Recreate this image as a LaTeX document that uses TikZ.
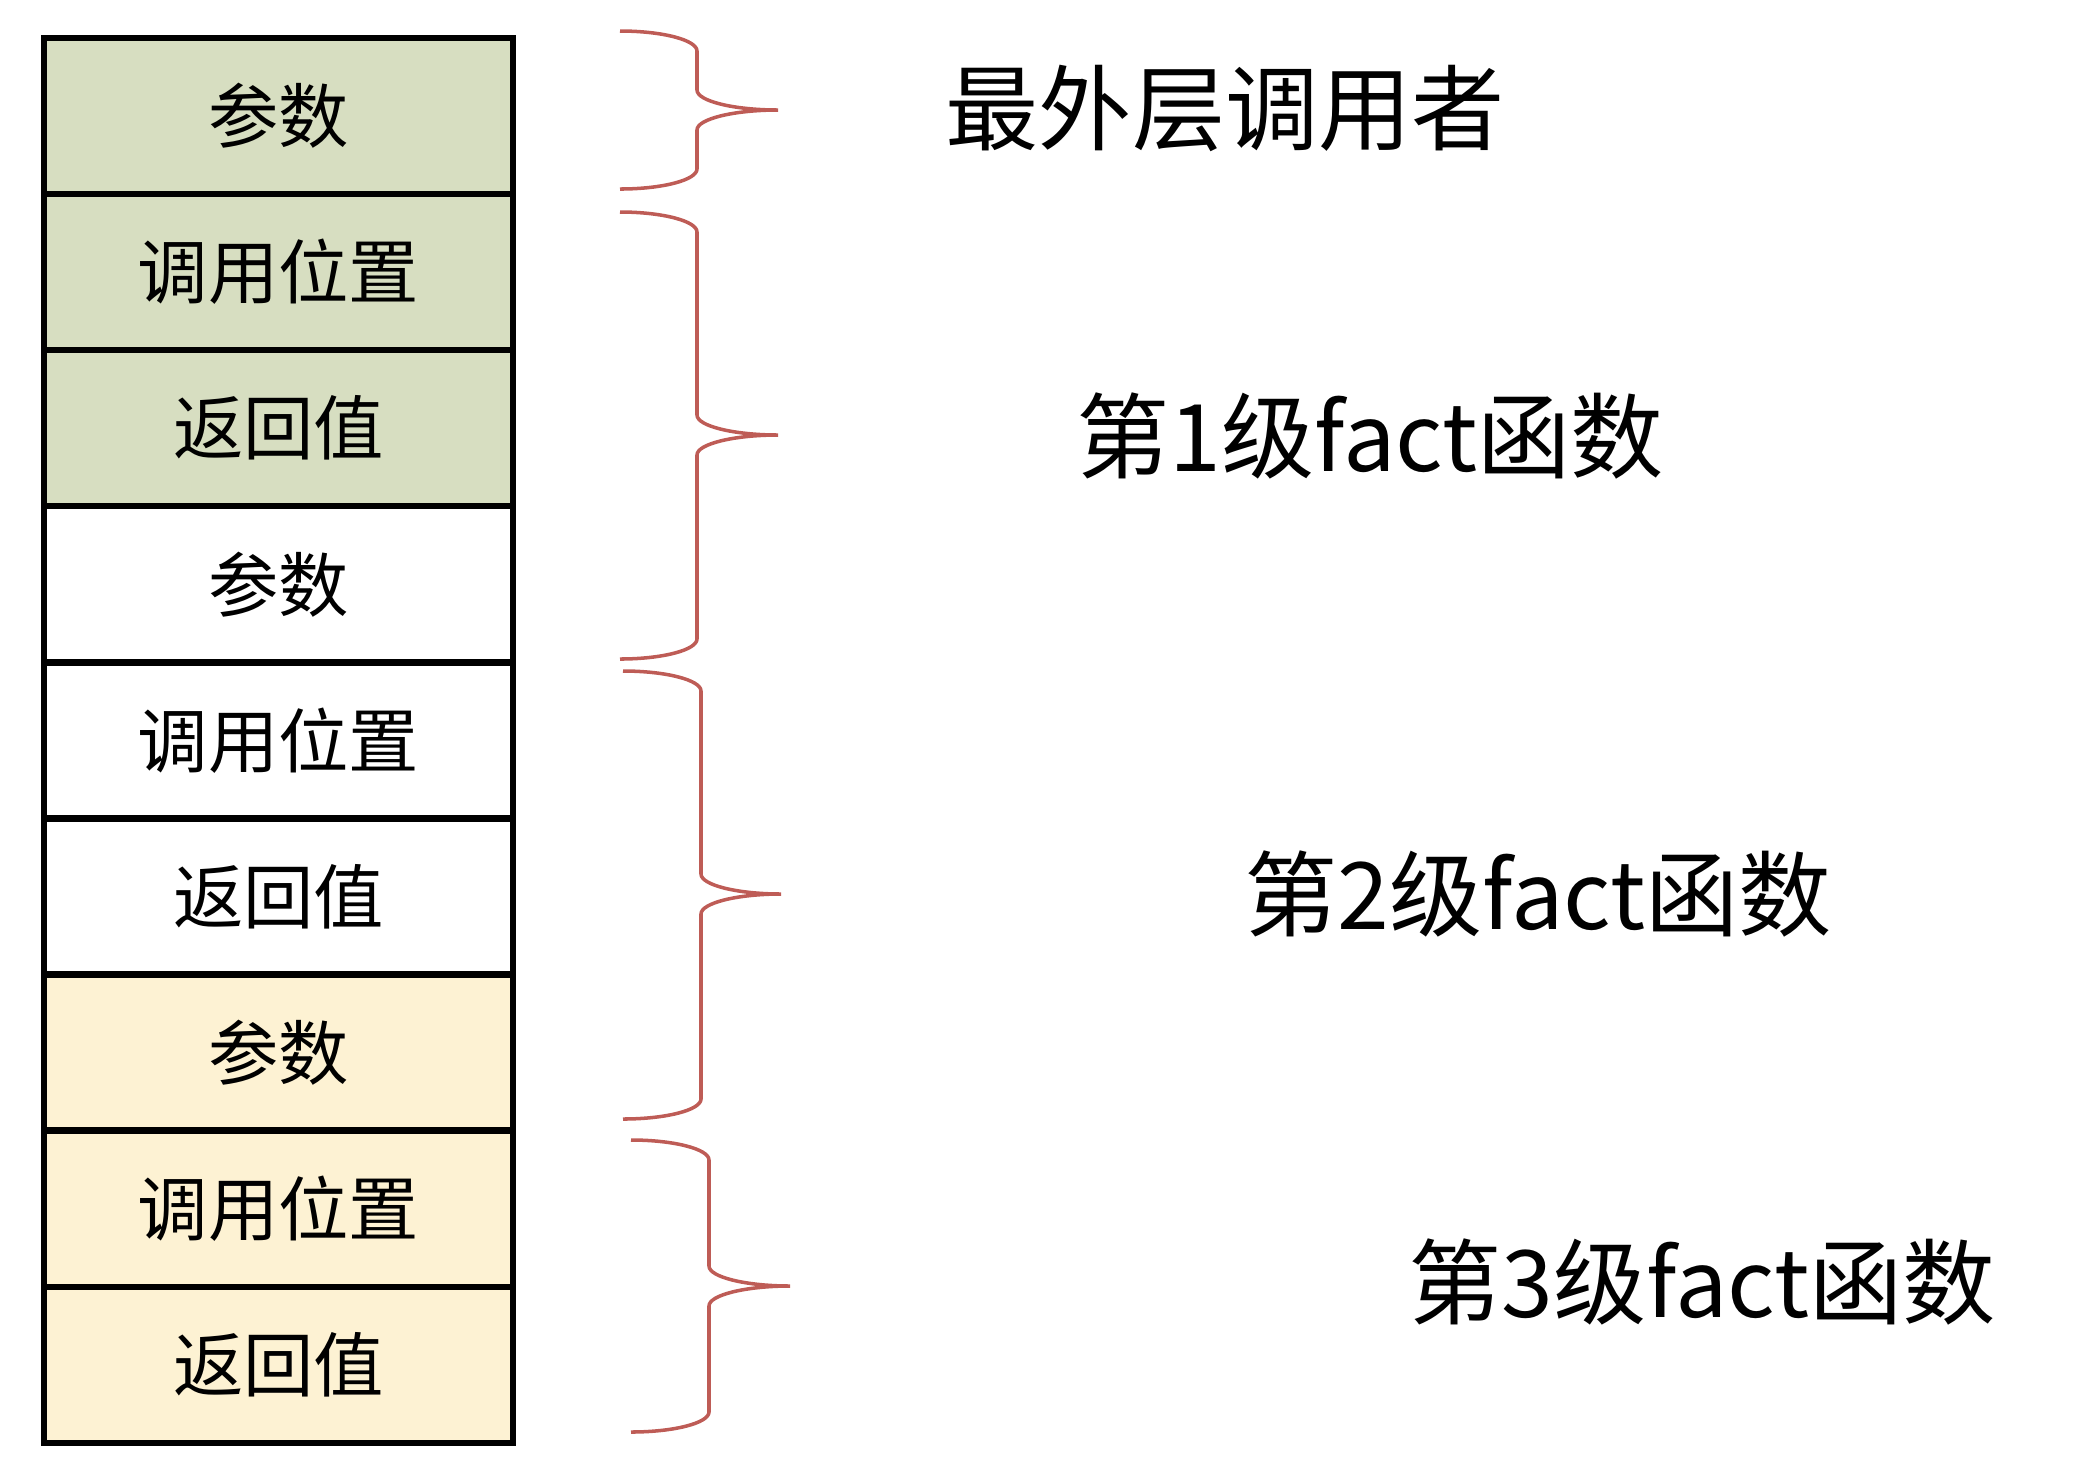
\documentclass[tikz,border=0pt]{standalone}
\usepackage{fontspec}
\setmainfont{Noto Sans CJK SC}
\usepackage{xcolor}
\usepackage{tikz}
\usetikzlibrary{positioning, calc}
\definecolor{callergreen}{RGB}{215, 222, 193}
\definecolor{levelyellow}{RGB}{253, 242, 211}
\definecolor{bracered}{RGB}{190, 92, 86}

% right-pointing curly brace: x-end, x-spine, x-tip, y-top, y-tip, y-bottom
\newcommand{\stackbrace}[6]{%
  \draw[curly] (#1,#4) .. controls ({#1+0.55*(#2-#1)},#4) and (#2,{#4+9}) .. (#2,{#4+20})
    -- (#2,{#5-20}) .. controls (#2,{#5-9}) and ({#2+0.45*(#3-#2)},#5) .. (#3,#5)
    .. controls ({#2+0.45*(#3-#2)},#5) and (#2,{#5+9}) .. (#2,{#5+20})
    -- (#2,{#6-20}) .. controls (#2,{#6-9}) and ({#1+0.55*(#2-#1)},#6) .. (#1,#6);
}

\begin{document}
\begin{tikzpicture}[
    x=0.01cm, y=-0.01cm,
    node distance=0pt,
    cell/.style={rectangle, draw=black, line width=1.8pt, outer sep=0pt, align=center,
                 minimum width=4.69cm, minimum height=1.56cm, font=\fontsize{20}{24}\selectfont},
    greencell/.style={cell, fill=callergreen},
    whitecell/.style={cell, fill=white},
    yellowcell/.style={cell, fill=levelyellow},
    curly/.style={draw=bracered, line width=1pt},
    levelname/.style={anchor=west, inner sep=0pt, font=\fontsize{26.5}{30}\selectfont}
]
\useasboundingbox (0,0) rectangle (2074,1462);

% stack frames
\node [greencell, anchor=north west] (arg0) at (44,38) {参数};
\node [greencell, below=of arg0] (pos1) {调用位置};
\node [greencell, below=of pos1] (ret1) {返回值};
\node [whitecell, below=of ret1] (arg1) {参数};
\node [whitecell, below=of arg1] (pos2) {调用位置};
\node [whitecell, below=of pos2] (ret2) {返回值};
\node [yellowcell, below=of ret2] (arg2) {参数};
\node [yellowcell, below=of arg2] (pos3) {调用位置};
\node [yellowcell, below=of pos3] (ret3) {返回值};

% braces
\stackbrace{620}{697}{778}{31}{110}{189}
\stackbrace{620}{697}{778}{212}{435}{659}
\stackbrace{623}{701}{781}{671}{894}{1119}
\stackbrace{631}{709}{790}{1140}{1286}{1432}

% level names
\node [levelname] (outer) at (945,108) {最外层调用者};
\node [levelname] (lvl1) at (1076,436) {第1级fact函数};
\node [levelname] (lvl2) at (1244,894) {第2级fact函数};
\node [levelname] (lvl3) at (1408,1282) {第3级fact函数};

\end{tikzpicture}
\end{document}
